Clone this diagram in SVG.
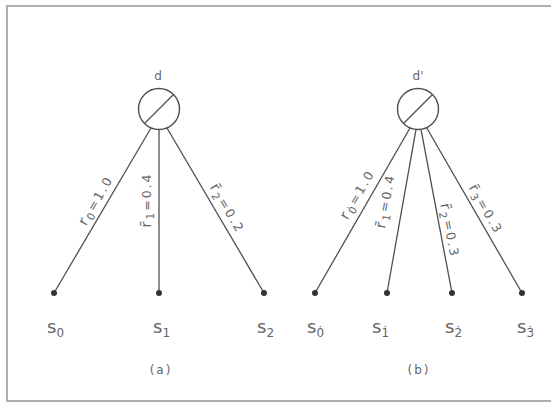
<svg xmlns="http://www.w3.org/2000/svg" width="551" height="403" viewBox="0 0 551 403">
<style>
.frame{fill:none;stroke:#b0b0b0;stroke-width:2}
.edge{stroke:#505050;stroke-width:1.3;fill:none}
.node{fill:#fff;stroke:#505050;stroke-width:1.4}
.dot{fill:#333}
text{font-family:"DejaVu Sans","Liberation Sans",sans-serif;fill:#666}
.lbl{font-size:12.5px;letter-spacing:2px;text-anchor:middle}
.sl{font-size:18px}
.cap{font-size:12px;letter-spacing:2px;text-anchor:middle}
.nm{font-size:12px;text-anchor:middle}
</style>
<rect width="551" height="403" fill="#fff"/>
<path class="frame" d="M551,6 H7 V401 H551"/>

<g id="connectors">
  <line class="edge" x1="151" y1="128" x2="54" y2="293"/>
  <line class="edge" x1="159" y1="129.5" x2="159" y2="293"/>
  <line class="edge" x1="167" y1="128" x2="264" y2="293"/>
  <line class="edge" x1="410" y1="128" x2="315" y2="293"/>
  <line class="edge" x1="416" y1="129.4" x2="387" y2="293"/>
  <line class="edge" x1="421" y1="129.3" x2="452" y2="293"/>
  <line class="edge" x1="426.5" y1="127.5" x2="522" y2="293"/>
  <text class="lbl" transform="translate(99.7,202.8) rotate(-60)"><tspan font-size="14.5">r</tspan><tspan dy="3" font-size="10.5">0</tspan><tspan dy="-3">=1.0</tspan></text>
  <text class="lbl" transform="translate(151,200) rotate(-90)"><tspan font-size="14.5">r&#x304;</tspan><tspan dy="3" font-size="10.5">1</tspan><tspan dy="-3">=0.4</tspan></text>
  <text class="lbl" transform="translate(223.5,210.7) rotate(59.4)"><tspan font-size="14.5">r&#x304;</tspan><tspan dy="3" font-size="10.5">2</tspan><tspan dy="-3">=0.2</tspan></text>
  <text class="lbl" transform="translate(361.3,196.6) rotate(-60.1)"><tspan font-size="14.5">r</tspan><tspan dy="3" font-size="10.5">0&#x307;</tspan><tspan dy="-3">=1.0</tspan></text>
  <text class="lbl" transform="translate(389.9,201.8) rotate(-80)"><tspan font-size="14.5">r&#x304;</tspan><tspan dy="3" font-size="10.5">1</tspan><tspan dy="-3">=0.4</tspan></text>
  <text class="lbl" transform="translate(445.4,231.3) rotate(79.3)"><tspan font-size="14.5">r&#x304;</tspan><tspan dy="3" font-size="10.5">2</tspan><tspan dy="-3">=0.3</tspan></text>
  <text class="lbl" transform="translate(481.9,211.4) rotate(60)"><tspan font-size="14.5">r&#x304;</tspan><tspan dy="3" font-size="10.5">3</tspan><tspan dy="-3">=0.3</tspan></text>
</g>

<g id="d">
  <circle class="node" cx="159" cy="109" r="20.5"/>
  <line class="edge" x1="144.5" y1="123.5" x2="173.5" y2="94.5"/>
  <text class="nm" x="158" y="80">d</text>
</g>
<g id="d-prime">
  <circle class="node" cx="418" cy="109" r="20.5"/>
  <line class="edge" x1="403.5" y1="123.5" x2="432.5" y2="94.5"/>
  <text class="nm" x="418" y="80">d'</text>
</g>

<g id="s0"><circle class="dot" cx="54" cy="293" r="3"/><text class="sl" x="47" y="333">s<tspan dy="4" font-size="12">0</tspan></text></g>
<g id="s1"><circle class="dot" cx="159" cy="293" r="3"/><text class="sl" x="153" y="333">s<tspan dy="4" font-size="12">1</tspan></text></g>
<g id="s2"><circle class="dot" cx="264" cy="293" r="3"/><text class="sl" x="257" y="333">s<tspan dy="4" font-size="12">2</tspan></text></g>

<g id="s0p"><circle class="dot" cx="315" cy="293" r="3"/><text class="sl" x="307" y="333">s<tspan dy="4" font-size="12">0&#x307;</tspan></text></g>
<g id="s1p"><circle class="dot" cx="387" cy="293" r="3"/><text class="sl" x="372" y="333">s<tspan dy="4" font-size="12">1&#x307;</tspan></text></g>
<g id="s2p"><circle class="dot" cx="452" cy="293" r="3"/><text class="sl" x="445" y="333">s<tspan dy="4" font-size="12">2&#x307;</tspan></text></g>
<g id="s3p"><circle class="dot" cx="522" cy="293" r="3"/><text class="sl" x="517" y="333">s<tspan dy="4" font-size="12">3&#x307;</tspan></text></g>

<text class="cap" x="161" y="374">(a)</text>
<text class="cap" x="419" y="374">(b)</text>
</svg>
